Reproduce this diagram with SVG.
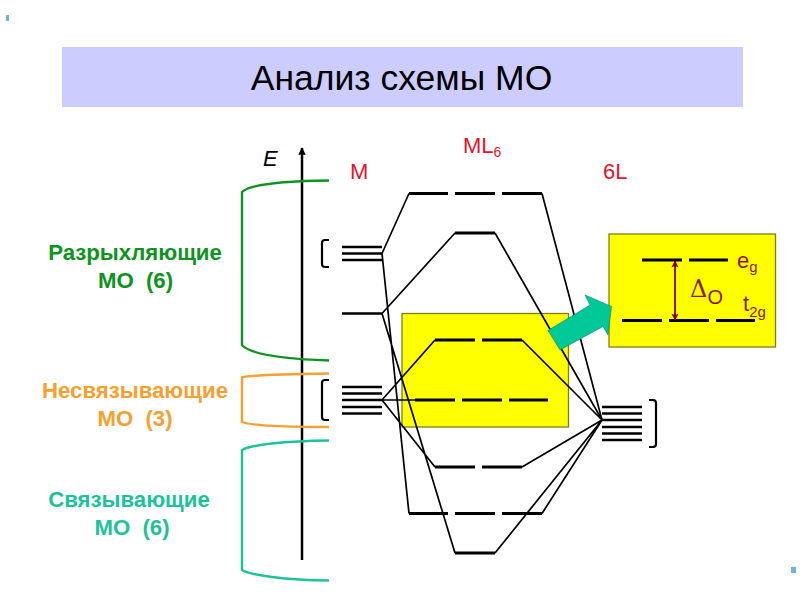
<svg xmlns="http://www.w3.org/2000/svg" width="800" height="600" viewBox="0 0 800 600">
<defs>
<style>
text{font-family:"Liberation Sans",Arial,sans-serif}
.lvl{stroke:#000;stroke-width:3;fill:none}
.m{stroke:#000;stroke-width:2.4;fill:none}
.c{stroke:#000;stroke-width:1.7;fill:none}
.box{fill:#ff0;stroke:#80801a;stroke-width:1.3}
.b{stroke:#000;stroke-width:2.200;fill:none}
.lab{font-size:22.2px;font-weight:bold;text-anchor:middle}
.red{font-size:22px;fill:#e8112d}
.br{fill:#8b1a00}
</style>
<marker id="ah" viewBox="0 0 10 10" refX="9" refY="5" markerWidth="5" markerHeight="4" orient="auto-start-reverse"><path d="M0 0L10 5L0 10L2.500 5Z" fill="#800000"/></marker>
<marker id="ax" viewBox="0 0 10 10" refX="9" refY="5" markerWidth="3" markerHeight="3" orient="auto"><path d="M0 0L10 5L0 10Z" fill="#000"/></marker>
</defs>
<rect width="800" height="600" fill="#fff"/>
<rect x="6" y="15" width="3" height="6" fill="#6bb6e8"/>
<rect x="791" y="567" width="5" height="6" fill="#6bb6e8"/>
<g id="title"><rect x="62" y="47" width="681" height="60" fill="#ccf"/>
<text x="401.500" y="90" font-size="35.500" text-anchor="middle" fill="#000">Анализ схемы МО</text></g>
<g id="yellow-box"><rect class="box" x="402" y="313.500" width="166.500" height="113.500"/></g>
<g id="axis"><path d="M302 560V148" stroke="#000" stroke-width="2.500" fill="none" marker-end="url(#ax)"/>
<text x="263" y="166" font-size="22" font-style="italic" fill="#000">E</text></g>
<g id="connectors">
<path class="c" d="M382 253.500L409 193.500M382 253.500L409 513.500M382 313.500L455 233M382 313.500L455 553M382 400L435 340M382 400H415M382 400L435 467"/>
<path class="c" d="M602 420L542 193.500M602 420L495 233M602 420L522 340M602 420L522 467M602 420L542 513.500M602 420L495 553"/>
</g>
<g id="bonding-brackets" fill="none" stroke-width="2.400">
<path d="M329 180.500C285 181 250 184 242 192V345C250 354 285 359 329 360.500" stroke="#0d9420"/>
<path d="M329 373.500C285 374 250 375 242 377.500V422C250 425 285 427 329 427" stroke="#f5a030"/>
<path d="M329 440.500C285 441 250 445 242 450V570C250 575 285 580 329 580.500" stroke="#1cc39a"/>
</g>
<g id="m-levels">
<path class="m" d="M342 247H382M342 253.500H382M342 260H382M342 313.500H382M342 387H382M342 393.500H382M342 400H382M342 407H382M342 413.500H382"/>
<path class="b" d="M329 240H325Q322 240 322 243V264Q322 267 325 267H329M329 380H325Q322 380 322 383V417Q322 420 325 420H329"/>
<text class="red" x="350" y="179">M</text></g>
<g id="l-levels">
<path class="m" d="M602 407H642M602 413.500H642M602 420H642M602 427H642M602 433.500H642M602 440H642"/>
<path class="b" d="M649 400H653Q656 400 656 403V444Q656 447 653 447H649"/>
<text class="red" x="603" y="179">6L</text></g>
<g id="ml6-levels">
<path class="lvl" d="M409 193.500H448M455 193.500H495M502 193.500H542M455 233H495M435 340H475M482 340H522M415 400H455M462 400H502M509 400H548M435 467H475M482 467H522M409 513.500H448M455 513.500H495M502 513.500H542M455 553H495"/>
<text class="red" x="463" y="153">ML<tspan font-size="14" dy="4">6</tspan></text></g>
<g id="detail-box"><rect class="box" x="609" y="234" width="166.500" height="113"/>
<path class="lvl" d="M642 260H682M689 260H728M622 320.500H662M669 320.500H709M716 320.500H755"/>
<path d="M675 261V320" stroke="#800000" stroke-width="1.800" fill="none" marker-start="url(#ah)" marker-end="url(#ah)"/>
<text class="br" x="690" y="297" font-size="24" style="font-family:'DejaVu Serif',serif">Δ</text>
<text class="br" x="707.500" y="304" font-size="20">O</text>
<text class="br" x="737" y="268" font-size="22">e<tspan font-size="15" dy="4">g</tspan></text>
<text class="br" x="743" y="311" font-size="22">t<tspan font-size="15" dy="6">2g</tspan></text></g>
<g id="arrow"><path d="M548 330.500L590 305L585 295L611.500 306.500L608 335L603 326.500L560 350Z" fill="#00c896" stroke="#008a68" stroke-width=".6"/></g>
<g id="labels">
<text class="lab" x="135" y="260" fill="#0d9420">Разрыхляющие</text>
<text class="lab" x="135.500" y="288" fill="#0d9420" xml:space="preserve">МО  (6)</text>
<text class="lab" x="135" y="398" fill="#f5a030">Несвязывающие</text>
<text class="lab" x="135" y="426" fill="#f5a030" xml:space="preserve">МО  (3)</text>
<text class="lab" x="129" y="507" fill="#1cc39a">Связывающие</text>
<text class="lab" x="132" y="535" fill="#1cc39a" xml:space="preserve">МО  (6)</text>
</g>
</svg>
